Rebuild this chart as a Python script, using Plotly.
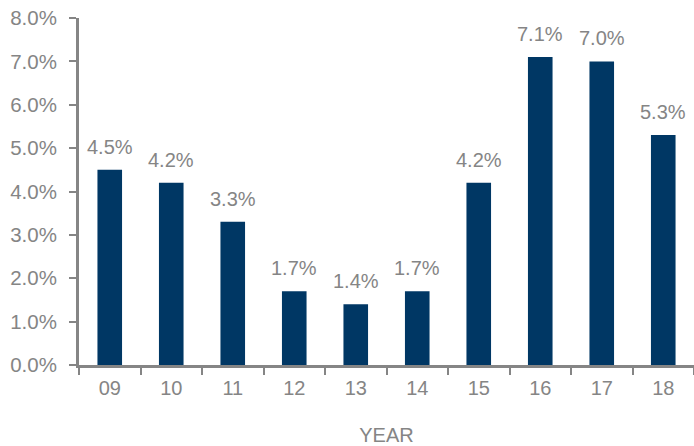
import plotly.graph_objects as go

years = ["09", "10", "11", "12", "13", "14", "15", "16", "17", "18"]
rates = [4.5, 4.2, 3.3, 1.7, 1.4, 1.7, 4.2, 7.1, 7.0, 5.3]
y_ticks = [0, 1, 2, 3, 4, 5, 6, 7, 8]

gray = "#858585"
FONT = "Liberation Sans, Arial"
fig = go.Figure(go.Bar(
    x=years, y=rates,
    marker=dict(color="#003764", line=dict(width=0)),
))
for i, v in enumerate(rates):
    fig.add_annotation(x=i, y=v, xref="x", yref="y", text=f"{v:.1f}%", showarrow=False,
                       yanchor="bottom", yshift=10,
                       font=dict(color=gray, size=20, family=FONT))
fig.update_layout(
    width=694, height=446,
    margin=dict(l=79, r=0, t=18, b=81),
    plot_bgcolor="white", paper_bgcolor="white",
    bargap=0.6, showlegend=False,
    font=dict(family=FONT, color=gray, size=20),
)
fig.update_xaxes(
    type="category", categoryarray=years, categoryorder="array",
    range=[-0.5, len(years) - 0.5],
    showline=True, linecolor=gray, linewidth=3, tickangle=0,
    ticks="outside", tickson="boundaries", ticklen=7, tickwidth=2, tickcolor=gray,
    ticklabelstandoff=3,
    showgrid=False, title=dict(text="YEAR", standoff=34, font=dict(size=20, color=gray)),
    tickfont=dict(size=20, color=gray),
)
fig.update_yaxes(
    range=[0, 8], tickvals=y_ticks, ticktext=[f"{v:.1f}%" for v in y_ticks],
    showline=True, linecolor=gray, linewidth=3,
    ticks="outside", ticklen=7, tickwidth=2, tickcolor=gray,
    ticklabelstandoff=8,
    showgrid=False, zeroline=False, tickfont=dict(size=20.5, color=gray),
)
fig.write_html("out.html")
